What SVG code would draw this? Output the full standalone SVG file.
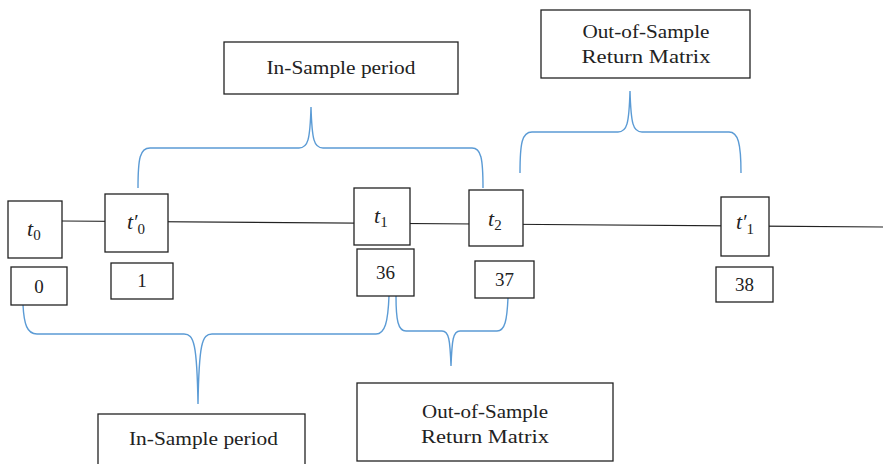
<svg xmlns="http://www.w3.org/2000/svg" width="883" height="464" viewBox="0 0 883 464">
<style>
.box{fill:#fff;stroke:#222;stroke-width:1.3}
.lbl{font-family:"Liberation Serif","DejaVu Serif",serif;font-size:19px;fill:#222;text-anchor:middle}
.m{font-family:"Liberation Serif","DejaVu Serif",serif;font-size:22px;fill:#222}
.brace{fill:none;stroke:#5b9bd5;stroke-width:1.4}
.tl{stroke:#222;stroke-width:1.2}
</style>
<g id="connectors">
<line class="tl" x1="62" y1="221" x2="883" y2="227"/>
<path class="brace" d="M138,188 C138,158 140,148 150,148 L299,148 C308,148 310,140 311,107 C312,140 314,148 323,148 L472,148 C481,148 483,158 483,188"/>
<path class="brace" d="M520,173 C520,143 522,132 532,132 L618,132 C627,132 629,124 630,91 C631,124 633,132 642,132 L729,132 C738,132 741,143 741,173"/>
<path class="brace" d="M23,305 C24,324 27,334 37,334 L184,334 C194,334 197,344 198,404 C199,344 202,334 212,334 L376,334 C385,334 388,322 389,296"/>
<path class="brace" d="M396,296 C396,320 398,331 406,331 L442,331 C449,331 450,340 451,366 C452,340 453,331 460,331 L497,331 C505,331 507,320 508,298"/>
</g>
<g id="top-in-sample"><rect class="box" x="224" y="42" width="234" height="52"/><text class="lbl" x="341" y="74" textLength="149" lengthAdjust="spacingAndGlyphs">In-Sample period</text></g>
<g id="top-oos"><rect class="box" x="541" y="10" width="209" height="68"/><text class="lbl" x="646" y="38" textLength="127" lengthAdjust="spacingAndGlyphs">Out-of-Sample</text><text class="lbl" x="646" y="63" textLength="129" lengthAdjust="spacingAndGlyphs">Return Matrix</text></g>
<g id="bottom-in-sample"><rect class="box" x="98" y="414" width="207" height="60"/><text class="lbl" x="203.5" y="445" textLength="149" lengthAdjust="spacingAndGlyphs">In-Sample period</text></g>
<g id="bottom-oos"><rect class="box" x="357" y="383" width="256" height="78"/><text class="lbl" x="485" y="418" textLength="126" lengthAdjust="spacingAndGlyphs">Out-of-Sample</text><text class="lbl" x="485" y="443" textLength="128" lengthAdjust="spacingAndGlyphs">Return Matrix</text></g>
<g id="t0"><rect class="box" x="8" y="201" width="54" height="57"/><text class="m" x="27" y="236"><tspan font-style="italic">t</tspan><tspan font-size="15" dy="4">0</tspan></text></g>
<g id="t0p"><rect class="box" x="105" y="194" width="63" height="58"/><text class="m" x="127" y="229"><tspan font-style="italic">t</tspan><tspan font-size="20" dx="1">′</tspan><tspan font-size="15" dx="-1" dy="5">0</tspan></text></g>
<g id="t1"><rect class="box" x="354" y="188" width="56" height="57"/><text class="m" x="374" y="223"><tspan font-style="italic">t</tspan><tspan font-size="15" dy="4">1</tspan></text></g>
<g id="t2"><rect class="box" x="469" y="190" width="54" height="56"/><text class="m" x="488" y="226"><tspan font-style="italic">t</tspan><tspan font-size="15" dy="4">2</tspan></text></g>
<g id="t1p"><rect class="box" x="721" y="197" width="48" height="59"/><text class="m" x="736" y="229"><tspan font-style="italic">t</tspan><tspan font-size="20" dx="1">′</tspan><tspan font-size="15" dx="-1" dy="5">1</tspan></text></g>
<g id="n0"><rect class="box" x="11" y="267" width="56" height="38"/><text class="lbl" x="39" y="293">0</text></g>
<g id="n1"><rect class="box" x="111" y="263" width="62" height="36"/><text class="lbl" x="142" y="287">1</text></g>
<g id="n36"><rect class="box" x="357" y="249" width="57" height="47"/><text class="lbl" x="385.5" y="279">36</text></g>
<g id="n37"><rect class="box" x="475" y="261" width="59" height="37"/><text class="lbl" x="504.5" y="286">37</text></g>
<g id="n38"><rect class="box" x="716" y="267" width="57" height="35"/><text class="lbl" x="744.5" y="291">38</text></g>
</svg>
